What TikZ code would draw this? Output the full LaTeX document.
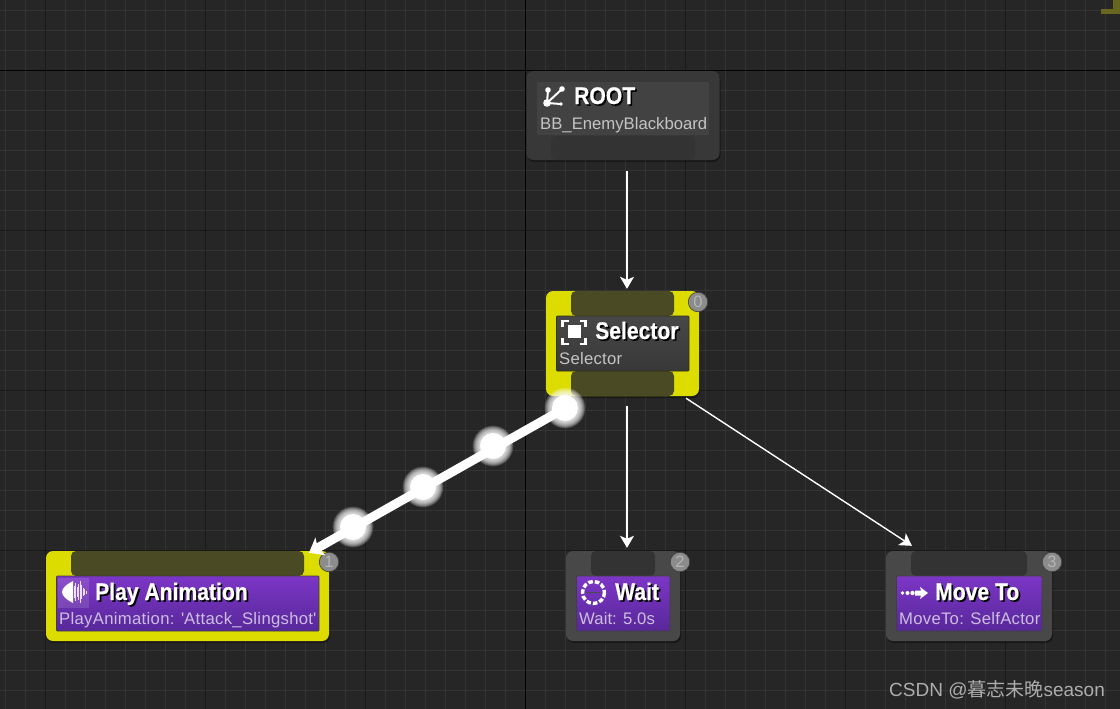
\documentclass[tikz,border=0pt]{standalone}
\usepackage{fontspec}
\setmainfont{Liberation Sans}
\newfontfamily\cjkfont{Noto Sans CJK SC}
\newfontfamily\ttlfont[FakeStretch=0.88,FakeBold=0.6]{Liberation Sans Bold}
\usetikzlibrary{arrows.meta,shadows}
\definecolor{bgc}{HTML}{262626}
\definecolor{minorc}{HTML}{343434}
\definecolor{majorc}{HTML}{191919}
\definecolor{yel}{HTML}{DCDC00}
\definecolor{tabyel}{HTML}{4A4A24}
\definecolor{greyn}{HTML}{484848}
\definecolor{tabgrey}{HTML}{333333}
\definecolor{purtop}{HTML}{7C36C6}
\definecolor{purbot}{HTML}{58289A}
\definecolor{subc}{HTML}{C4C4C4}
\definecolor{subp}{HTML}{CDBDE2}
\definecolor{badgec}{HTML}{8C8C8C}
\definecolor{olive}{HTML}{66661F}
\definecolor{HTMLroot}{HTML}{383838}
\newcommand{\ttl}[1]{\fontsize{24}{24}\ttlfont\rlap{\kern1.7pt\raisebox{-1.7pt}{\textcolor{black}{#1}}}#1}
\tikzset{
  outer/.style={rectangle,rounded corners=7pt,inner sep=0pt,draw=none,
    drop shadow={shadow xshift=1pt,shadow yshift=-2pt,fill=black,opacity=.35}},
  selnode/.style={outer,fill=yel},
  plainnode/.style={outer,fill=greyn},
  rootnode/.style={outer,fill=HTMLroot},
  tabbox/.style={rectangle,rounded corners=5pt,inner sep=0pt,minimum height=25pt},
  inner box/.style={rectangle,inner sep=0pt,minimum height=55pt,rounded corners=1pt,line width=.8pt},
  purple box/.style={inner box,top color=purtop,bottom color=purbot,draw=black!75},
  grey box/.style={inner box,top color=black!72!white,bottom color=black!78!white,draw=tabyel!70!black},
  titletxt/.style={anchor=base west,inner sep=0pt,text=white},
  subtxt/.style={anchor=base west,inner sep=0pt,font=\fontsize{16.7}{16.7}\selectfont},
  badge/.style={circle,fill=badgec,draw=black!55!badgec,line width=.6pt,minimum size=19.5pt,inner sep=0pt,text=white!35!badgec,font=\fontsize{16.5}{16.5}\selectfont},
  link/.style={draw=white,line width=1.4pt,-{Stealth[length=12pt,width=14pt,inset=3pt]}},
  hotlink/.style={draw=white,line width=9pt,-{Stealth[length=13pt,width=20pt,inset=3pt]}},
}
\newcommand{\blob}[2]{%
  \foreach \r in {20.5,20,...,12}{\fill[white,opacity=.11] (#1,#2) circle[radius=\r];}
  \fill[white] (#1,#2) circle[radius=13];}
\begin{document}
\begin{tikzpicture}[x=1pt,y=-1pt]
\useasboundingbox (0,0) rectangle (1120,709);
\fill[bgc] (0,0) rectangle (1120,709);
% grid
\foreach \x in {5.5,25.5,...,1105.5}{\draw[minorc,line width=1pt] (\x,0) -- (\x,709);}
\foreach \y in {10.5,30.5,...,690.5}{\draw[minorc,line width=1pt] (0,\y) -- (1120,\y);}
\foreach \x in {45.5,205.5,365.5,685.5,845.5,1005.5}{\draw[majorc,line width=1pt] (\x,0) -- (\x,709);}
\foreach \y in {230.5,390.5,550.5}{\draw[majorc,line width=1pt] (0,\y) -- (1120,\y);}
\draw[black,line width=1pt] (525.5,0) -- (525.5,709);
\draw[black,line width=1pt] (0,70.5) -- (1120,70.5);
% stray olive marker
\fill[olive] (1101,9) rectangle (1120,14.5);
\fill[olive] (1113,0) rectangle (1120,9);

% ROOT
\node[rootnode,minimum width=193pt,minimum height=89pt] (root) at (623,115.5) {};
\node[rectangle,fill=white,fill opacity=.05,minimum width=172pt,minimum height=53pt,inner sep=0pt] (rootinner) at (623,108.5) {};
\node[tabbox,fill=tabgrey,minimum width=144pt,minimum height=24pt] (roottab) at (623,148) {};
\draw[white,line width=2pt] (562,89) -- (547,103) -- (548,90) (547,103) -- (561,104);
\fill[white] (547,103) circle[radius=3.8] (548,90) circle[radius=2.8] (562,89) circle[radius=2.8] (561,104) circle[radius=1.8];
\node[titletxt] (roottitle) at (574,104) {\ttl{ROOT}};
\node[subtxt,text=subc] (rootsub) at (540,129) {BB\_EnemyBlackboard};

% Selector
\node[selnode,minimum width=153pt,minimum height=105pt] (selector) at (622.5,343.5) {};
\node[tabbox,fill=tabyel,minimum width=103pt] (seltop) at (622.5,303.5) {};
\node[tabbox,fill=tabyel,minimum width=103pt] (selbot) at (622.5,383.5) {};
\node[grey box,minimum width=132.5pt] (selin) at (622.75,343.5) {};
\fill[white] (568,324.5) rectangle (581,337.5);
\draw[white,line width=2.4pt] (562.5,327) -- (562.5,321) -- (569,321) (579.5,321) -- (585.5,321) -- (585.5,327)
  (585.5,338) -- (585.5,344) -- (579.5,344) (569,344) -- (562.5,344) -- (562.5,338);
\node[titletxt] (seltitle) at (595,339) {\ttl{Selector}};
\node[subtxt,text=subc] (selsub) at (559,364) {\addfontfeature{LetterSpace=1.5}Selector};
\node[badge] (b0) at (698,302) {0};

% Play Animation
\node[selnode,minimum width=283pt,minimum height=90pt] (play) at (187.5,596) {};
\node[tabbox,fill=tabyel,minimum width=233pt] (playtab) at (187.5,563.5) {};
\node[purple box,minimum width=262.5pt] (playin) at (187.75,603.5) {};
\fill[white,opacity=.12] (58,578) rectangle (89,608);
\fill[white] (73,581) .. controls (67,584) and (62,588) .. (62,592) .. controls (62,596) and (67,600) .. (73,603) -- cycle;
\foreach \x/\h in {74/6,75.5/9,77/5,78.5/8,80/11,81.5/7,83/4,84.5/3,86/1.5}{\draw[white!85!purtop,line width=.9pt] (\x,592-\h) -- (\x,592+\h);}
\node[titletxt] (playtitle) at (95,600) {\ttl{Play Animation}};
\node[subtxt,text=subp] (playsub) at (59,624) {\addfontfeature{LetterSpace=1.8}PlayAnimation: \textquotesingle Attack\_Slingshot\textquotesingle};
\node[badge] (b1) at (329,562) {1};

% Wait
\node[plainnode,minimum width=114pt,minimum height=90pt] (wait) at (623,596) {};
\node[tabbox,fill=tabgrey,minimum width=64pt] (waittab) at (623,563.5) {};
\node[purple box,minimum width=93.5pt] (waitin) at (623.25,603.5) {};
\draw[white,line width=3.4pt,dash pattern=on 4.6pt off 2pt] (593.5,592.5) circle[radius=11];
\draw[black!70,line width=.9pt] (587,592.5) -- (600,592.5);
\node[titletxt] (waittitle) at (615,600) {\ttl{Wait}};
\node[subtxt,text=subp] (waitsub) at (579,624) {\addfontfeature{LetterSpace=.4}Wait: 5.0s};
\node[badge] (b2) at (680,562) {2};

% Move To
\node[plainnode,minimum width=166pt,minimum height=90pt] (moveto) at (969,596) {};
\node[tabbox,fill=tabgrey,minimum width=116pt] (movetab) at (969,563.5) {};
\node[purple box,minimum width=145.5pt] (movein) at (969.25,603.5) {};
\fill[white] (902.5,593) circle[radius=1.8] (907.5,593) circle[radius=2] (912.5,593) circle[radius=2.2];
\fill[white] (915,590.5) -- (921,590.5) -- (920,587) -- (928,593) -- (920,599) -- (921,595.5) -- (915,595.5) -- cycle;
\node[titletxt] (movetitle) at (935,600) {\ttl{Move To}};
\node[subtxt,text=subp] (movesub) at (899,624) {\addfontfeature{LetterSpace=1.6}MoveTo: SelfActor};
\node[badge] (b3) at (1052,562) {3};

% connectors
\draw[link] ([shift={(4,11)}]root.south) -- ([shift={(4.5,-2)}]selector.north);
\draw[link] ([shift={(4.5,10)}]selector.south) -- ([shift={(4,-3)}]wait.north);
\draw[link] ([shift={(63.5,2)}]selector.south) -- ([shift={(-57,-5)}]moveto.north);
\draw[hotlink] ([shift={(-57.5,12)}]selector.south) -- ([shift={(121.5,2)}]play.north);
\blob{565}{408}\blob{493}{446}\blob{423}{487}\blob{353}{527}

% watermark
\node[anchor=base west,inner sep=0pt,text=white!68!black,font=\fontsize{19}{19}\selectfont] (wm) at (889,696) {CSDN @{\cjkfont 暮志未晚}season};
\end{tikzpicture}
\end{document}
